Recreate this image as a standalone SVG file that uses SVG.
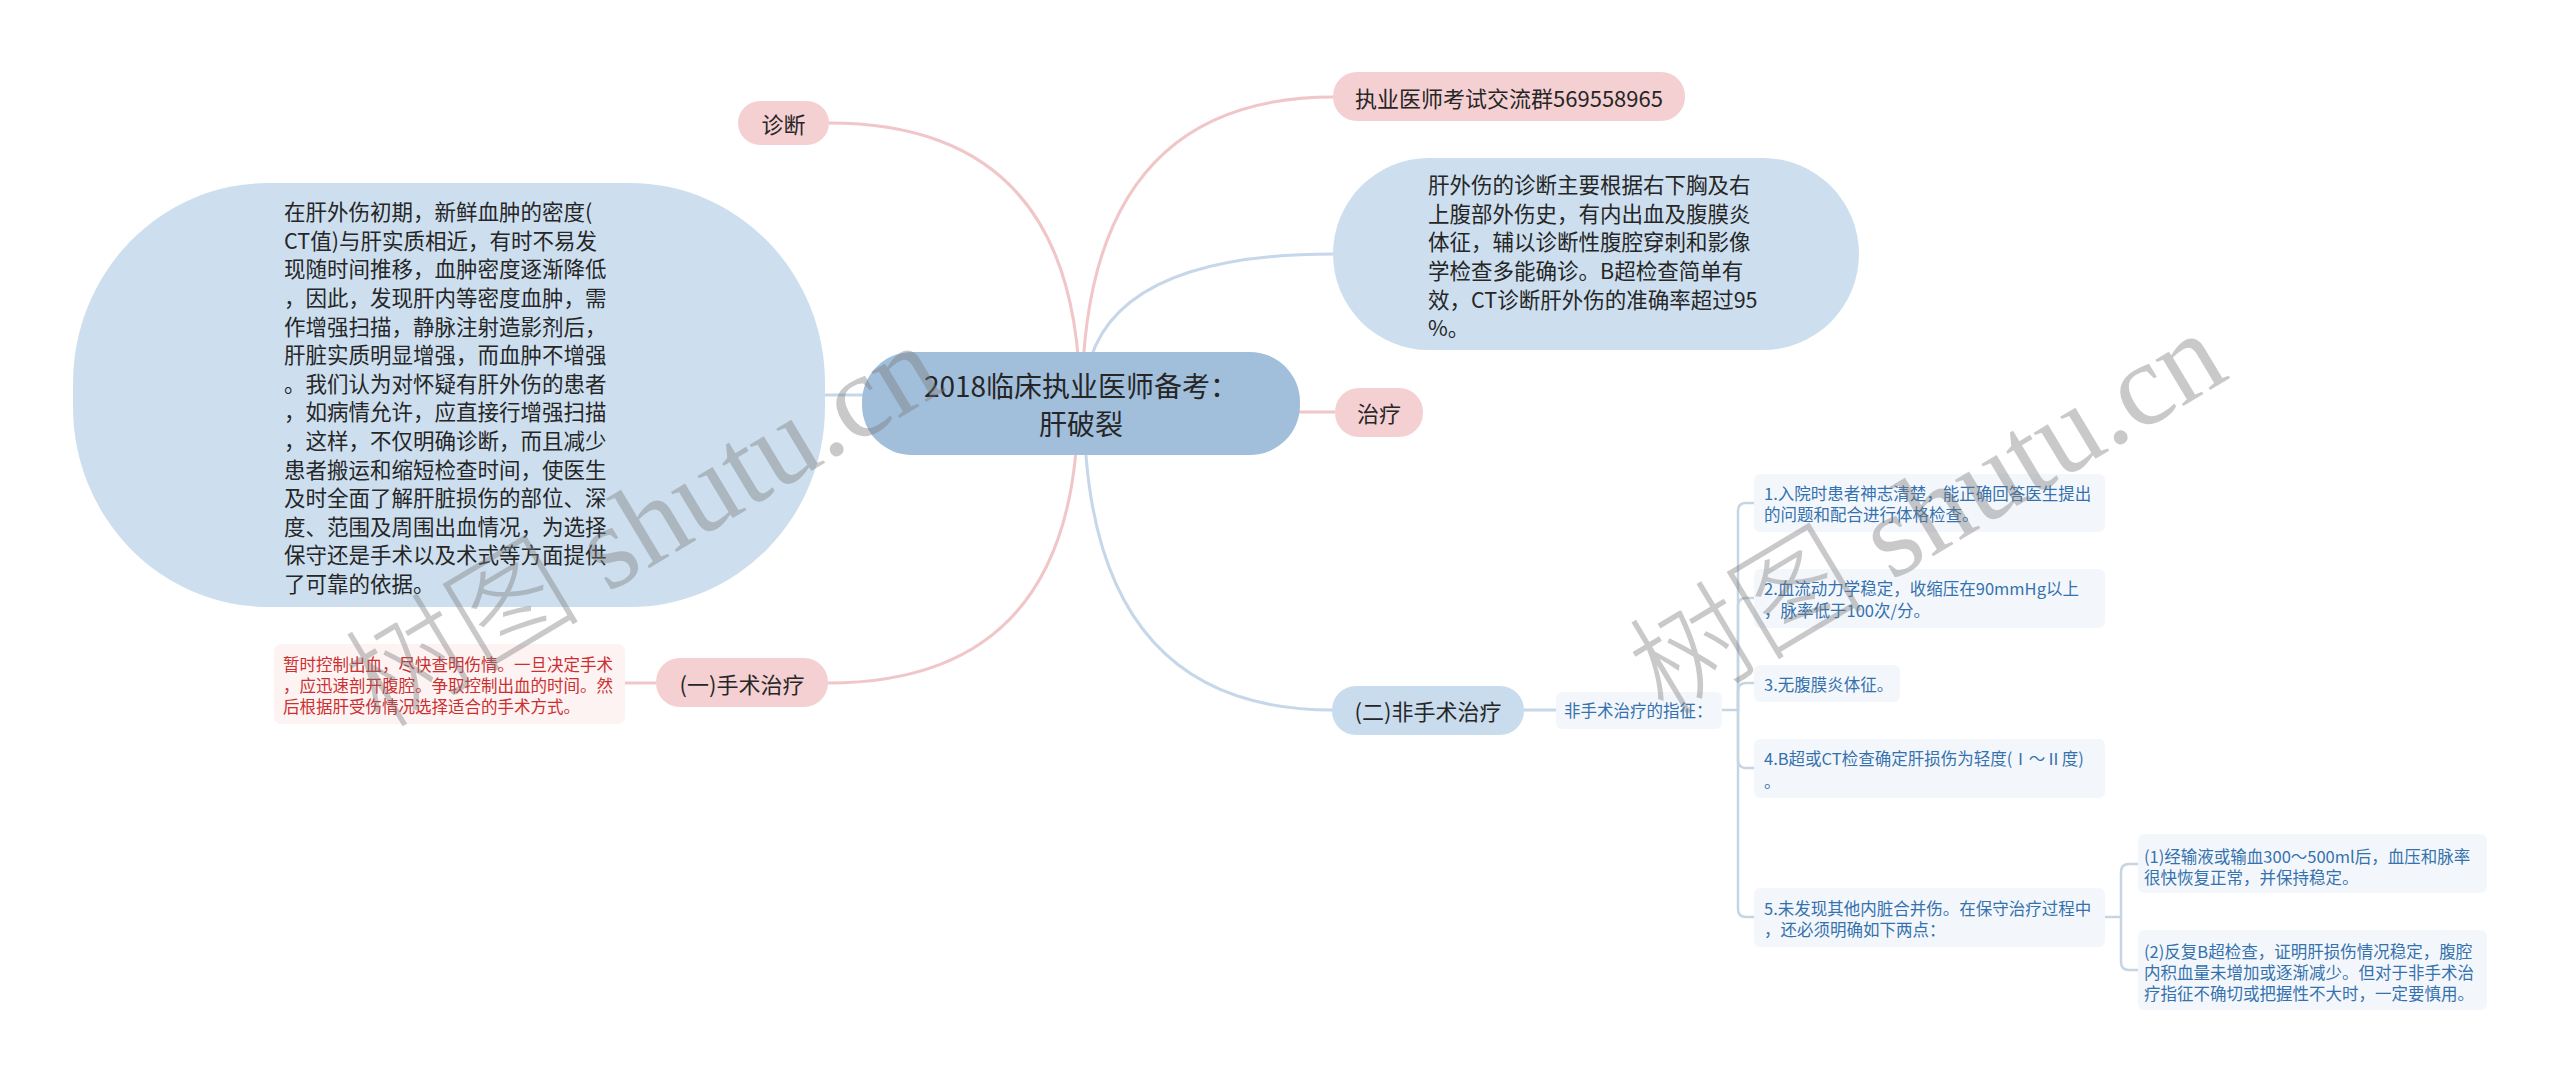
<svg xmlns="http://www.w3.org/2000/svg" width="2560" height="1083" viewBox="0 0 2560 1083">
<style>
text { font-family: "Noto Sans CJK SC", "Noto Sans", sans-serif; dominant-baseline: central; }
.pk { fill: #f5d0d2; }
.lb { fill: #cddfef; }
.t28 { font-size: 28px; fill: #262626; }
.t22 { font-size: 22px; fill: #262626; }
.t21 { font-size: 21.5px; fill: #262626; }
.sm { font-size: 16.5px; fill: #3572ad; }
.red { font-size: 16.5px; fill: #cc2f2f; }
.box { fill: #f3f7fc; }
.lp { fill: none; stroke: #f0c6c8; stroke-width: 3; }
.lbl { fill: none; stroke: #c5d7e8; stroke-width: 3; }
.br { fill: none; stroke: #c6d5e4; stroke-width: 2.5; }
.wm { font-size: 118px; fill: #7a7a7a; opacity: 0.4; dominant-baseline: alphabetic; }
.wmc { font-family: "Noto Sans CJK SC", sans-serif; font-weight: 300; }
.wml { font-family: "Liberation Serif", serif; }
</style>
<rect width="2560" height="1083" fill="#ffffff"/>

<g id="connectors">
  <path class="lp" d="M1080 403 Q1080 123 829 123"/>
  <path class="lp" d="M1082 403 Q1082 97 1333 97"/>
  <path class="lbl" d="M1084 403 Q1084 254 1333 254"/>
  <path class="lp" d="M1290 412 L1335 412"/>
  <path class="lbl" d="M870 395 L825 395"/>
  <path class="lp" d="M1078 403 Q1078 683 828 683"/>
  <path class="lbl" d="M1084 403 Q1084 710 1332 710"/>
  <path class="lp" d="M656 683 L625 683"/>
  <path class="lbl" d="M1524 710 L1556 710"/>
  <path class="br" d="M1722 710 L1738 710 L1738 511 Q1738 503 1746 503 L1754 503"/>
  <path class="br" d="M1738 710 L1738 606 Q1738 598 1746 598 L1754 598"/>
  <path class="br" d="M1738 710 L1738 691 Q1738 683 1746 683 L1754 683"/>
  <path class="br" d="M1738 710 L1738 760 Q1738 768 1746 768 L1754 768"/>
  <path class="br" d="M1738 710 L1738 909 Q1738 917 1746 917 L1754 917"/>
  <path class="br" d="M2105 917 L2121 917 L2121 872 Q2121 864 2129 864 L2138 864"/>
  <path class="br" d="M2121 917 L2121 962 Q2121 970 2129 970 L2138 970"/>
</g>

<g id="center">
  <rect x="862" y="352" width="438" height="103" rx="50" fill="#a1bedb"/>
  <text class="t28" x="1081" y="385" text-anchor="middle">2018临床执业医师备考：</text>
  <text class="t28" x="1081" y="423" text-anchor="middle">肝破裂</text>
</g>

<g id="node-zhenduan">
  <rect class="pk" x="738" y="101" width="91" height="44" rx="22"/>
  <text class="t22" x="783.5" y="123" text-anchor="middle">诊断</text>
</g>

<g id="node-qun">
  <rect class="pk" x="1333" y="72" width="352" height="49" rx="24"/>
  <text class="t22" x="1509" y="97" text-anchor="middle">执业医师考试交流群569558965</text>
</g>

<g id="node-diag-text">
  <rect class="lb" x="1333" y="158" width="526" height="192" rx="96"/>
  <text class="t21" x="1428" y="183">肝外伤的诊断主要根据右下胸及右</text>
  <text class="t21" x="1428" y="212">上腹部外伤史，有内出血及腹膜炎</text>
  <text class="t21" x="1428" y="240">体征，辅以诊断性腹腔穿刺和影像</text>
  <text class="t21" x="1428" y="269">学检查多能确诊。B超检查简单有</text>
  <text class="t21" x="1428" y="298">效，CT诊断肝外伤的准确率超过95</text>
  <text class="t21" x="1428" y="326">%。</text>
</g>

<g id="node-zhiliao">
  <rect class="pk" x="1335" y="388" width="88" height="49" rx="24"/>
  <text class="t22" x="1379" y="412" text-anchor="middle">治疗</text>
</g>

<g id="node-ct-text">
  <rect class="lb" x="73" y="183" width="752" height="424" rx="195" ry="200"/>
  <text class="t21" x="284" y="210">在肝外伤初期，新鲜血肿的密度(</text>
  <text class="t21" x="284" y="239">CT值)与肝实质相近，有时不易发</text>
  <text class="t21" x="284" y="267">现随时间推移，血肿密度逐渐降低</text>
  <text class="t21" x="284" y="296">，因此，发现肝内等密度血肿，需</text>
  <text class="t21" x="284" y="325">作增强扫描，静脉注射造影剂后，</text>
  <text class="t21" x="284" y="353">肝脏实质明显增强，而血肿不增强</text>
  <text class="t21" x="284" y="382">。我们认为对怀疑有肝外伤的患者</text>
  <text class="t21" x="284" y="410">，如病情允许，应直接行增强扫描</text>
  <text class="t21" x="284" y="439">，这样，不仅明确诊断，而且减少</text>
  <text class="t21" x="284" y="468">患者搬运和缩短检查时间，使医生</text>
  <text class="t21" x="284" y="496">及时全面了解肝脏损伤的部位、深</text>
  <text class="t21" x="284" y="525">度、范围及周围出血情况，为选择</text>
  <text class="t21" x="284" y="553">保守还是手术以及术式等方面提供</text>
  <text class="t21" x="284" y="582">了可靠的依据。</text>
</g>

<g id="node-shoushu">
  <rect class="pk" x="656" y="658" width="172" height="49" rx="24"/>
  <text class="t22" x="742" y="683" text-anchor="middle">(一)手术治疗</text>
</g>

<g id="node-shoushu-text">
  <rect x="274" y="644" width="351" height="80" rx="7" fill="#fdf3f3"/>
  <text class="red" x="283" y="664">暂时控制出血，尽快查明伤情。一旦决定手术</text>
  <text class="red" x="283" y="685">，应迅速剖开腹腔。争取控制出血的时间。然</text>
  <text class="red" x="283" y="706">后根据肝受伤情况选择适合的手术方式。</text>
</g>

<g id="node-feishoushu">
  <rect x="1332" y="686" width="192" height="49" rx="24" fill="#c9dcee"/>
  <text class="t22" x="1428" y="710" text-anchor="middle">(二)非手术治疗</text>
</g>

<g id="node-zhizheng">
  <rect class="box" x="1556" y="692" width="166" height="37" rx="6"/>
  <text class="sm" x="1564" y="710">非手术治疗的指征：</text>
</g>

<g id="node-item1">
  <rect class="box" x="1754" y="474" width="351" height="58" rx="6"/>
  <text class="sm" x="1764" y="493">1.入院时患者神志清楚，能正确回答医生提出</text>
  <text class="sm" x="1764" y="514">的问题和配合进行体格检查。</text>
</g>

<g id="node-item2">
  <rect class="box" x="1754" y="569" width="351" height="59" rx="6"/>
  <text class="sm" x="1764" y="588">2.血流动力学稳定，收缩压在90mmHg以上</text>
  <text class="sm" x="1764" y="610">，脉率低于100次/分。</text>
</g>

<g id="node-item3">
  <rect class="box" x="1754" y="665" width="146" height="37" rx="6"/>
  <text class="sm" x="1764" y="684">3.无腹膜炎体征。</text>
</g>

<g id="node-item4">
  <rect class="box" x="1754" y="739" width="351" height="59" rx="6"/>
  <text class="sm" x="1764" y="758">4.B超或CT检查确定肝损伤为轻度(Ⅰ～Ⅱ度)</text>
  <text class="sm" x="1764" y="781">。</text>
</g>

<g id="node-item5">
  <rect class="box" x="1754" y="888" width="351" height="59" rx="6"/>
  <text class="sm" x="1764" y="908">5.未发现其他内脏合并伤。在保守治疗过程中</text>
  <text class="sm" x="1764" y="929">，还必须明确如下两点：</text>
</g>

<g id="node-sub1">
  <rect class="box" x="2138" y="834" width="349" height="59" rx="6"/>
  <text class="sm" x="2144" y="856">(1)经输液或输血300～500ml后，血压和脉率</text>
  <text class="sm" x="2144" y="877">很快恢复正常，并保持稳定。</text>
</g>

<g id="node-sub2">
  <rect class="box" x="2138" y="930" width="349" height="80" rx="6"/>
  <text class="sm" x="2144" y="951">(2)反复B超检查，证明肝损伤情况稳定，腹腔</text>
  <text class="sm" x="2144" y="972">内积血量未增加或逐渐减少。但对于非手术治</text>
  <text class="sm" x="2144" y="993">疗指征不确切或把握性不大时，一定要慎用。</text>
</g>

<g id="watermark">
  <text class="wm" transform="translate(380 730) rotate(-31)"><tspan class="wmc">树图</tspan><tspan class="wml"> shutu.cn</tspan></text>
  <text class="wm" transform="translate(1664 718) rotate(-31)"><tspan class="wmc">树图</tspan><tspan class="wml"> shutu.cn</tspan></text>
</g>
</svg>
